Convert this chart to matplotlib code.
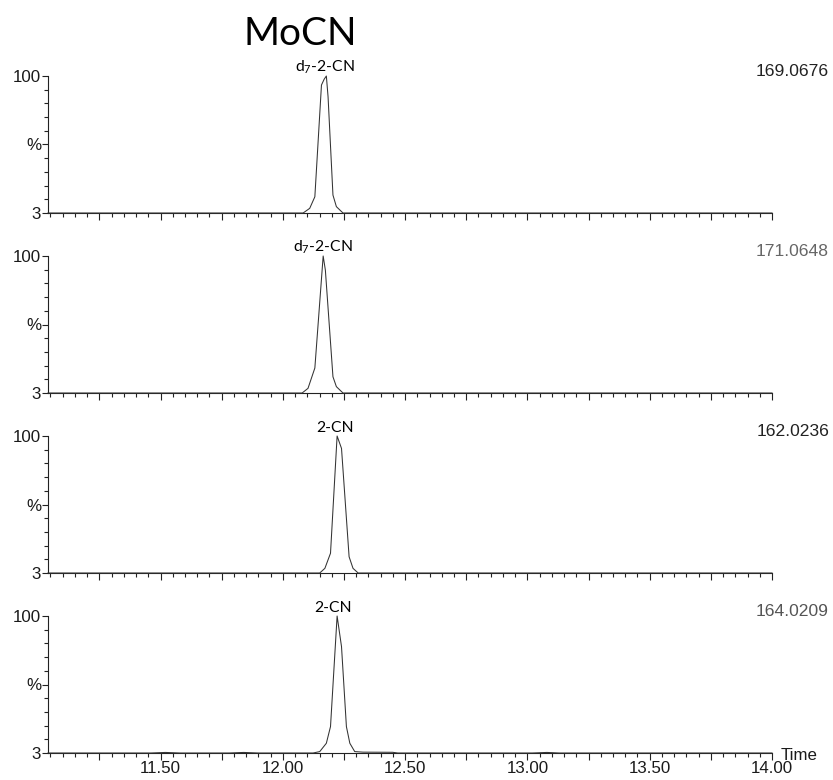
import matplotlib
matplotlib.use('Agg')
import matplotlib.pyplot as plt
import numpy as np
from matplotlib.ticker import MultipleLocator, FixedLocator, FuncFormatter

plt.rcParams['mathtext.fontset'] = 'custom'
plt.rcParams['mathtext.rm'] = 'Lato'
plt.rcParams['mathtext.it'] = 'Lato:italic'

# ---- data (retention time in min, relative intensity in %) ----
title = 'MoCN'
mz_labels = ['169.0676', '171.0648', '162.0236', '164.0209']
peak_names = [r'd$_\mathrm{7}$-2-CN', r'd$_\mathrm{7}$-2-CN', '2-CN', '2-CN']
peak_label_times = [12.170, 12.165, 12.215, 12.205]

p1_time = [11.04, 12.083, 12.110, 12.131, 12.158, 12.169, 12.178, 12.185, 12.205, 12.219, 12.246, 14.00]
p1_int = [3, 3, 6.3, 14.5, 93.6, 97.7, 100, 85.3, 15.7, 7.5, 3, 3]

p2_time = [11.04, 12.079, 12.103, 12.131, 12.165, 12.174, 12.205, 12.219, 12.246, 14.00]
p2_int = [3, 3, 6.3, 20.7, 100, 90, 14.5, 7.5, 3, 3]

p3_time = [11.04, 12.151, 12.172, 12.195, 12.222, 12.240, 12.271, 12.287, 12.308, 14.00]
p3_int = [3, 3, 6.3, 17, 100, 91.2, 14.5, 6.3, 3, 3]

p4_time = [11.04, 11.46, 11.52, 11.58, 11.78, 11.84, 11.90, 12.124, 12.151, 12.178, 12.195,
           12.222, 12.240, 12.260, 12.274, 12.294, 12.328, 12.449, 12.47, 13.02, 13.08, 13.13, 14.00]
p4_int = [3, 3, 3.4, 3, 3, 3.4, 3, 3, 4, 9.9, 21.7,
          100, 78.3, 21.7, 9.9, 4, 3.6, 3.5, 3, 3, 3.4, 3, 3]

times = [p1_time, p2_time, p3_time, p4_time]
ints = [p1_int, p2_int, p3_int, p4_int]
mz_colors = ['#222222', '#666666', '#222222', '#555555']

# ---- layout ----
W, H = 833, 780
fig = plt.figure(figsize=(W / 100, H / 100), dpi=100)
x_left, x_right = 48, 772
baselines = [213, 393, 573, 753]
tops = [76, 256, 436, 616]
label_tops = [72, 252, 432, 612]

for i in range(4):
    ax = fig.add_axes([x_left / W, 1 - baselines[i] / H,
                       (x_right - x_left) / W, (baselines[i] - tops[i]) / H])
    ax.plot(times[i], ints[i], color='#333333', lw=0.75, clip_on=False, zorder=3)
    ax.set_xlim(11.04, 14.00)
    ax.set_ylim(3, 100)
    for s in ['top', 'right']:
        ax.spines[s].set_visible(False)
    for s in ['left', 'bottom']:
        ax.spines[s].set_linewidth(0.8)
        ax.spines[s].set_color('#222222')
    ax.patch.set_alpha(0)

    ax.xaxis.set_major_locator(MultipleLocator(0.25))
    ax.xaxis.set_minor_locator(MultipleLocator(0.05))
    if i == 3:
        ax.xaxis.set_major_formatter(FuncFormatter(
            lambda v, p: f'{v:.2f}' if abs(v * 2 - round(v * 2)) < 1e-6 else ''))
    else:
        ax.xaxis.set_major_formatter(FuncFormatter(lambda v, p: ''))
    ax.tick_params(axis='x', which='major', length=5, width=0.8, direction='out',
                   color='#222222', pad=0.5)
    ax.tick_params(axis='x', which='minor', length=2.8, width=0.8, direction='out',
                   color='#222222')

    yt = np.linspace(3, 100, 11)
    ax.yaxis.set_major_locator(FixedLocator([yt[0], yt[5], yt[10]]))
    ax.yaxis.set_minor_locator(FixedLocator(list(yt[1:5]) + list(yt[6:10])))
    ax.yaxis.set_major_formatter(FuncFormatter(
        lambda v, p: {0: '3', 1: '%', 2: '100'}.get(p, '')))
    ax.tick_params(axis='y', which='major', length=4, width=0.8, pad=1, color='#222222')
    ax.tick_params(axis='y', which='minor', length=3, width=0.8, color='#222222')
    for lab in ax.get_xticklabels() + ax.get_yticklabels():
        lab.set_fontfamily('Liberation Sans')
        lab.set_fontsize(12.2)
        lab.set_color('#1a1a1a')

    ax.annotate(peak_names[i], xy=(peak_label_times[i], 100), xytext=(0, 3),
                textcoords='offset points', ha='center', va='baseline',
                fontsize=11.3, family='Lato', color='black')

    fig.text(829 / W, 1 - label_tops[i] / H, mz_labels[i], ha='right', va='center',
             color=mz_colors[i], family='Liberation Sans', size=12.6)

fig.text(781 / W, 1 - 756 / H, 'Time', ha='left', va='center', color='#1a1a1a',
         family='Liberation Sans', size=12.2)
fig.text(300 / W, 1 - 34 / H, title, ha='center', va='center', fontsize=28,
         family='Lato', color='black')

fig.savefig('out.png', dpi=100)
